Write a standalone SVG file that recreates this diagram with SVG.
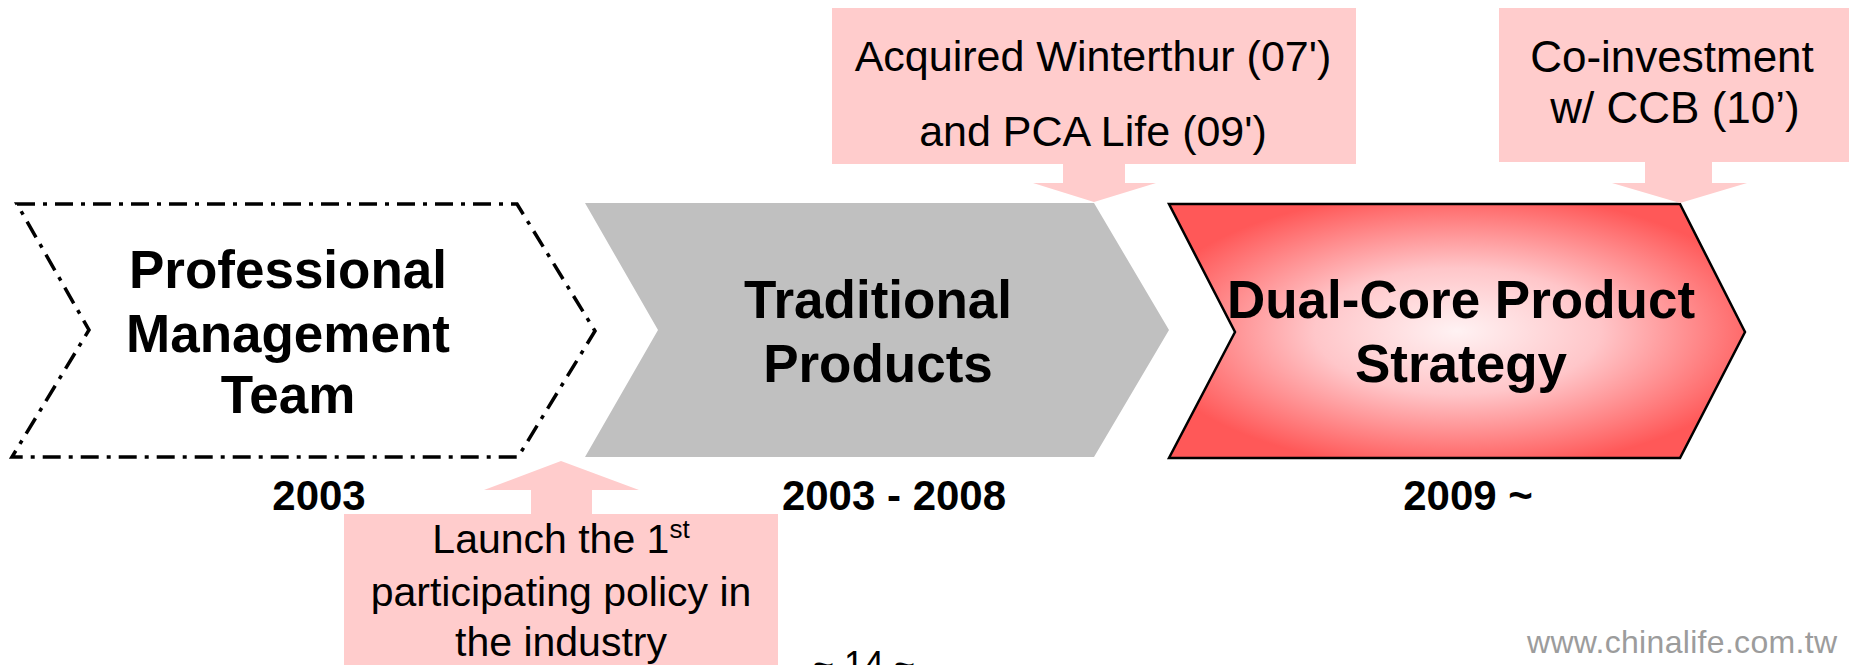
<svg xmlns="http://www.w3.org/2000/svg" width="1849" height="665" viewBox="0 0 1849 665">
<style>
.title{font-family:"Liberation Sans",Arial,sans-serif;font-weight:bold;font-size:53px;fill:#000;text-anchor:middle}
.year{font-family:"Liberation Sans",Arial,sans-serif;font-weight:bold;font-size:42px;fill:#000;text-anchor:middle}
.note{font-family:"Liberation Sans",Arial,sans-serif;font-size:43px;fill:#000;text-anchor:middle}
.callout{fill:#FFCCCC;stroke:none}
.wm{font-family:"Liberation Sans",Arial,sans-serif;font-size:32px;fill:#9c9c9c}
</style>
<defs>
<radialGradient id="redGrad" cx="0.5" cy="0.5" r="0.55">
<stop offset="0" stop-color="#FFF2F3"/>
<stop offset="0.45" stop-color="#FFC6C9"/>
<stop offset="1" stop-color="#FF5858"/>
</radialGradient>
</defs>
<rect x="0" y="0" width="1849" height="665" fill="#FFFFFF"/>

<g id="node-professional">
<path d="M17,204 H517 L595,331 L518,457 H12 L89,330 Z" fill="#FFFFFF" stroke="#000" stroke-width="3.5" stroke-dasharray="18 8 4 8"/>
<text class="title" x="288" y="288">Professional</text>
<text class="title" x="288" y="352">Management</text>
<text class="title" x="288" y="413">Team</text>
</g>

<g id="node-traditional">
<path d="M585,203 H1094 L1169,330 L1094,457 H585 L658,330 Z" fill="#C0C0C0"/>
<text class="title" x="878" y="318">Traditional</text>
<text class="title" x="878" y="382">Products</text>
</g>

<g id="node-dualcore">
<path d="M1169,204 H1680 L1745,332 L1680,458 H1169 L1235,332 Z" fill="url(#redGrad)" stroke="#000" stroke-width="2.5"/>
<text class="title" x="1461" y="318">Dual-Core Product</text>
<text class="title" x="1461" y="382">Strategy</text>
</g>

<g id="years">
<text class="year" x="319" y="510">2003</text>
<text class="year" x="894" y="510">2003 - 2008</text>
<text class="year" x="1468" y="510">2009 ~</text>
</g>

<g id="node-acquired">
<path class="callout" d="M832,8 H1356 V164 H1125 V183 H1156 L1094,202 L1033,183 H1063 V164 H832 Z"/>
<text class="note" x="1093" y="71">Acquired Winterthur (07')</text>
<text class="note" x="1093" y="146">and PCA Life (09')</text>
</g>

<g id="node-coinvest">
<path class="callout" d="M1499,8 H1849 V162 H1712 V183 H1747 L1680,203 L1612,183 H1645 V162 H1499 Z"/>
<text class="note" style="font-size:44px" x="1672" y="72">Co-investment</text>
<text class="note" style="font-size:44px" x="1675" y="123">w/ CCB (10’)</text>
</g>

<g id="node-launch">
<path class="callout" d="M344,514 H531 V490 H484 L561,461 L639,490 H592 V514 H778 V665 H344 Z"/>
<text class="note" style="font-size:41px" x="561" y="553">Launch the 1<tspan style="font-size:26px" dy="-15">st</tspan></text>
<text class="note" style="font-size:41px" x="561" y="606">participating policy in</text>
<text class="note" style="font-size:41px" x="561" y="656">the industry</text>
</g>

<g id="connectors"></g>

<text class="note" style="font-size:36px" x="864" y="677">~ 14 ~</text>
<text class="wm" x="1527" y="653" textLength="310">www.chinalife.com.tw</text>
</svg>
